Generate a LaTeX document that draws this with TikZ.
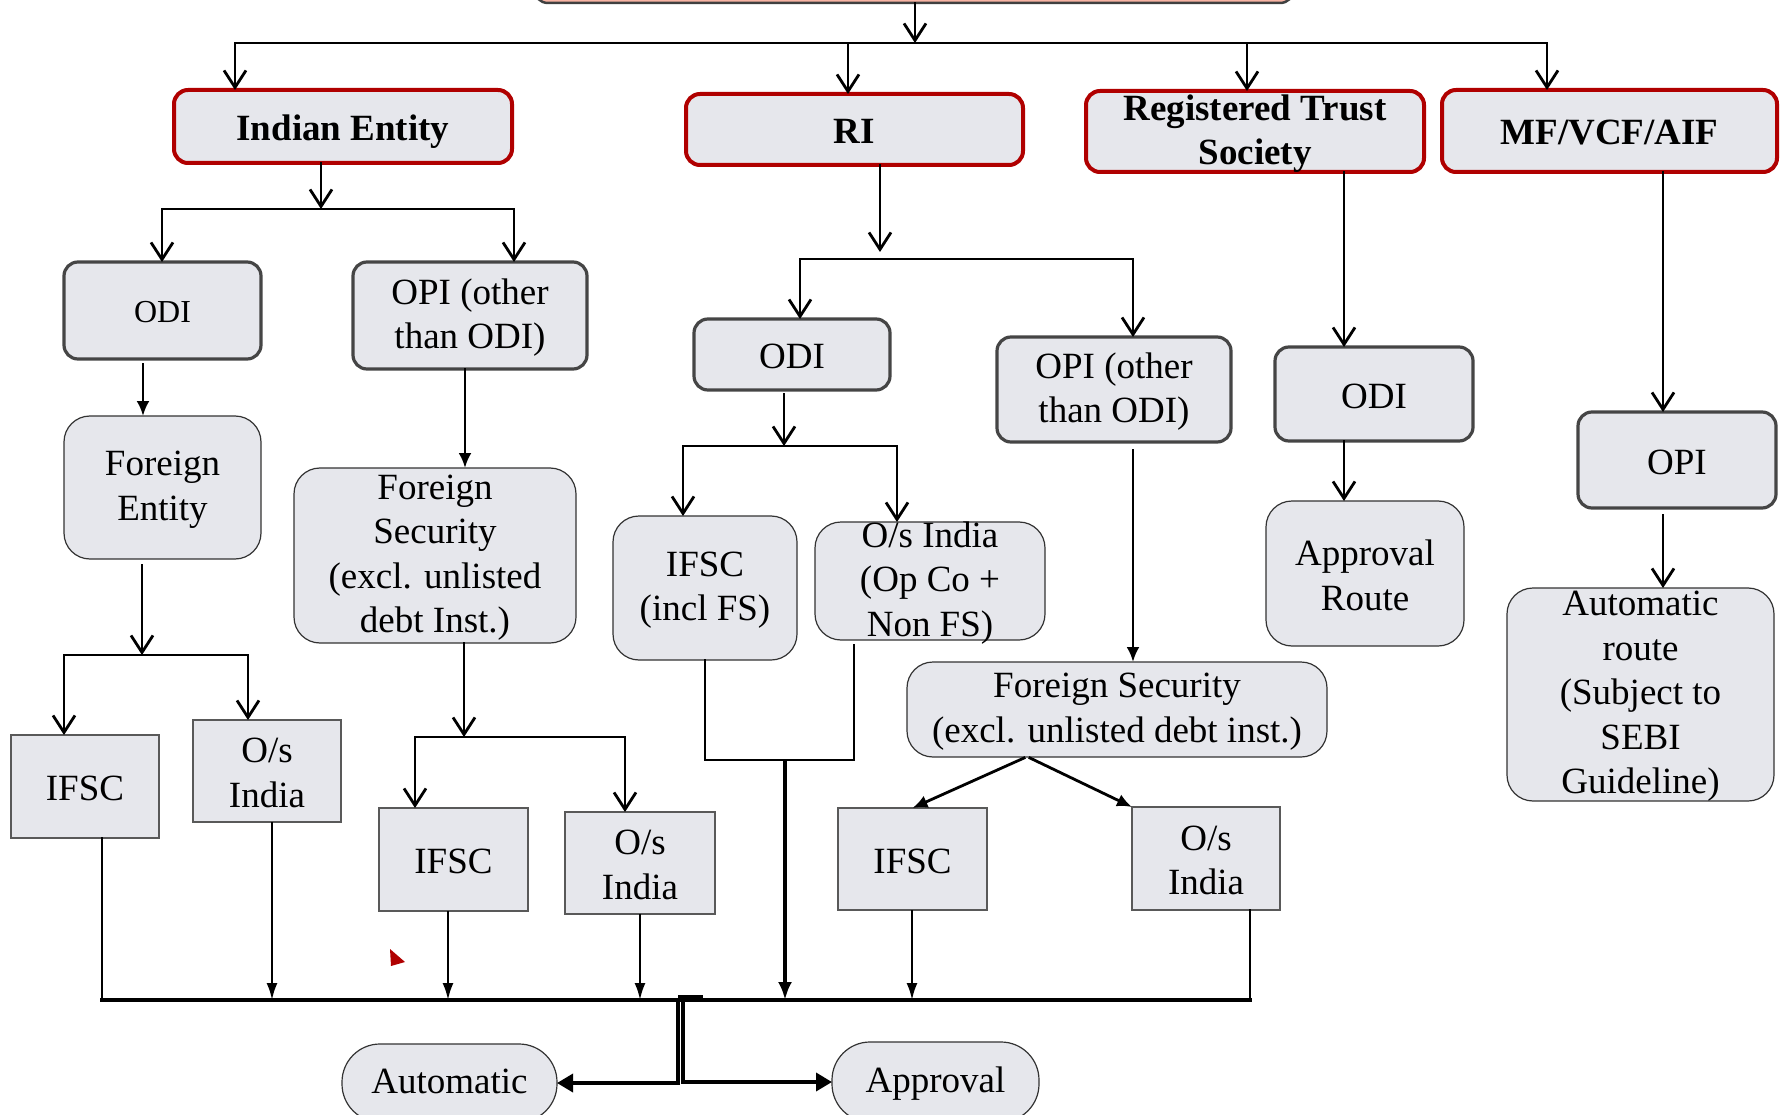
\documentclass[tikz,border=0pt]{standalone}
\usepackage{fontspec}
\setmainfont{Liberation Serif}
\usetikzlibrary{arrows.meta,calc}
\definecolor{boxfill}{HTML}{E6E7EC}
\definecolor{redb}{HTML}{B00000}
\definecolor{pinkf}{HTML}{F8B4A4}
\definecolor{grayb}{HTML}{454545}
\newcommand\mybox[8]{%
  \node[#1, anchor=north west, minimum width={(#5)-(#3)}, minimum height={(#6)-(#4)}] (#2) at (#3,#4) {};
  \node[txt,#7] (#2t) at ([yshift=-2pt]#2.center) {#8};}
\tikzset{
  base/.style={inner sep=0pt, outer sep=0pt, fill=boxfill},
  topbox/.style={inner sep=0pt, outer sep=0pt, fill=pinkf, draw=black!75, line width=2.5pt, rounded corners=14pt},
  lvlone/.style={base, draw=redb, line width=4pt, rounded corners=14pt},
  lvltwo/.style={base, draw=grayb, line width=3.2pt, rounded corners=14pt},
  soft/.style={base, draw=black!80, line width=1.2pt, rounded corners=26pt},
  sq/.style={base, draw=black!65, line width=1.5pt},
  pill/.style={base, draw=black!80, line width=1.2pt, rounded corners=38pt},
  txt/.style={inner sep=0pt, align=center, font=\fontsize{37}{44.5}\selectfont},
  bold/.style={font=\fontsize{37}{44.5}\selectfont\bfseries},
  smalltxt/.style={font=\fontsize{32}{38}\selectfont},
  conn/.style={line width=2.8pt, line cap=rect},
  oarr/.style={conn, -{Straight Barb[length=17pt,width=22pt]}},
  farr/.style={conn, -{Latex[length=15pt,width=13pt]}},
  narr/.style={line width=2.3pt, -{Latex[length=17pt,width=11pt]}},
  thickarr/.style={line width=4.5pt, -{Latex[length=18pt,width=14pt]}},
  aarr/.style={line width=3.5pt, -{Triangle[length=16pt,width=18pt]}},
  busline/.style={line width=4pt, line cap=rect}
}
\begin{document}
\begin{tikzpicture}[x=1pt,y=-1pt]
\useasboundingbox (0,0) rectangle (1783,1115);
\clip (0,0) rectangle (1783,1115);
% ---------------- boxes ----------------
\mybox{topbox}{top}{534}{-40}{1294}{3}{}{}
\mybox{lvlone}{ie}{174}{90}{512}{163}{bold,yshift=-3pt}{Indian Entity}
\mybox{lvlone}{ri}{686}{94}{1023}{165}{bold}{RI}
\mybox{lvlone}{rt}{1086}{91}{1424}{172}{bold}{Registered Trust\\Society}
\mybox{lvlone}{mf}{1442}{90}{1777}{172}{bold}{MF/VCF/AIF}
\mybox{lvltwo}{iodi}{64}{262}{261}{359}{smalltxt}{ODI}
\mybox{lvltwo}{iopi}{353}{262}{587}{369}{}{OPI (other\\than ODI)}
\mybox{soft}{fe}{64}{416}{261}{559}{}{Foreign\\Entity}
\mybox{soft}{fsa}{294}{468}{576}{643}{}{Foreign\\Security\\(excl. unlisted\\debt Inst.)}
\mybox{sq}{ifsca}{11}{735}{159}{838}{}{IFSC}
\mybox{sq}{osia}{193}{720}{341}{822}{}{O/s\\India}
\mybox{sq}{ifscb}{379}{808}{528}{911}{}{IFSC}
\mybox{sq}{osib}{565}{812}{715}{914}{}{O/s\\India}
\mybox{lvltwo}{riodi}{694}{319}{890}{390}{}{ODI}
\mybox{lvltwo}{riopi}{997}{337}{1231}{442}{}{OPI (other\\than ODI)}
\mybox{soft}{ifscc}{613}{516}{797}{660}{}{IFSC\\(incl FS)}
\mybox{soft}{osic}{815}{522}{1045}{640}{}{O/s India\\(Op Co +\\Non FS)}
\mybox{soft}{fsb}{907}{662}{1327}{757}{}{Foreign Security\\(excl. unlisted debt inst.)}
\mybox{sq}{ifscd}{838}{808}{987}{910}{}{IFSC}
\mybox{sq}{osid}{1132}{807}{1280}{910}{}{O/s\\India}
\mybox{lvltwo}{rtodi}{1275}{347}{1473}{441}{}{ODI}
\mybox{soft}{apr}{1266}{501}{1464}{646}{}{Approval\\Route}
\mybox{lvltwo}{mfopi}{1578}{412}{1776}{508}{}{OPI}
\mybox{soft}{aut}{1507}{588}{1774}{801}{}{Automatic\\route\\(Subject to\\SEBI\\Guideline)}
\mybox{pill}{autom}{342}{1044}{557}{1122}{yshift=4pt}{Automatic}
\mybox{pill}{appr}{832}{1042}{1039}{1122}{}{Approval}
% ---------------- top level ----------------
\coordinate (t0) at (915,43);
\draw[oarr] (top.south -| t0) -- (t0);
\coordinate (b1) at (235,43);
\coordinate (b2) at (848,43);
\coordinate (b3) at (1247,43);
\coordinate (b4) at (1547,43);
\draw[oarr] (b2) -- (b1) -- (b1 |- ie.north);
\draw[oarr] (b2) -- (b4) -- (b4 |- mf.north);
\draw[oarr] (b2) -- (b2 |- ri.north);
\draw[oarr] (b3) -- (b3 |- rt.north);
% ---------------- Indian entity ----------------
\coordinate (ie0) at (321,209);
\draw[oarr] (ie.south -| ie0) -- (ie0);
\coordinate (ieL) at (162,209);
\coordinate (ieR) at (514,209);
\draw[oarr] (ieR) -- (ieL) -- (ieL |- iodi.north);
\draw[oarr] (ieR) -- (ieR |- iopi.north);
\coordinate (gA) at (143,364);
\draw[farr] (gA) -- (fe.north -| gA);
\coordinate (gB) at (465,369);
\draw[farr] (iopi.south -| gB) -- (fsa.north -| gB);
\coordinate (fe0) at (142,655);
\coordinate (fe1) at (142,565);
\draw[oarr] (fe1) -- (fe0);
\coordinate (feL) at (64,655);
\coordinate (feR) at (248,655);
\draw[oarr] (feR) -- (feL) -- (feL |- ifsca.north);
\draw[oarr] (feR) -- (feR |- osia.north);
\coordinate (fs0) at (464,737);
\draw[oarr] (fsa.south -| fs0) -- (fs0);
\coordinate (fsL) at (415,737);
\coordinate (fsR) at (625,737);
\draw[oarr] (fsR) -- (fsL) -- (fsL |- ifscb.north);
\draw[oarr] (fsR) -- (fsR |- osib.north);
% ---------------- RI ----------------
\coordinate (ri0) at (880,252);
\draw[oarr] (ri.south -| ri0) -- (ri0);
\coordinate (riL) at (800,259);
\coordinate (riR) at (1133,259);
\draw[oarr] (riR) -- (riL) -- (riL |- riodi.north);
\draw[oarr] (riR) -- (riR |- riopi.north);
\coordinate (rb0) at (784,446);
\coordinate (rb1) at (784,394);
\draw[oarr] (rb1) -- (rb0);
\coordinate (rbL) at (683,446);
\coordinate (rbR) at (897,446);
\draw[oarr] (rbR) -- (rbL) -- (rbL |- ifscc.north);
\draw[oarr] (rbR) -- (rbR |- osic.north);
\coordinate (mL) at (705,760);
\coordinate (mR) at (854,760);
\coordinate (mR1) at (854,645);
\coordinate (m0) at (785,760);
\draw[conn] (ifscc.south -| mL) -- (mL) -- (mR) -- (mR1);
\coordinate (gC) at (1133,450);
\draw[farr] (gC) -- (fsb.north -| gC);
\coordinate (dL) at (1024,758);
\coordinate (dR) at (1030,758);
\draw[farr] (dL) -- (ifscd.north);
\draw[farr] (dR) -- (osid.north west);
% ---------------- Trust and MF ----------------
\coordinate (gD) at (1344,0);
\draw[oarr] (rt.south -| gD) -- (rtodi.north -| gD);
\draw[oarr] (rtodi.south -| gD) -- (apr.north -| gD);
\coordinate (gE) at (1663,0);
\coordinate (gE1) at (1663,515);
\draw[oarr] (mf.south -| gE) -- (mfopi.north -| gE);
\draw[oarr] (gE1) -- (aut.north -| gE);
% ---------------- bottom bus ----------------
\coordinate (bL) at (102,1000);
\coordinate (bR) at (1250,1000);
\draw[busline] (bL) -- (bR);
\draw[conn] (ifsca.south -| bL) -- (bL);
\draw[conn] (osid.south -| bR) -- (bR);
\coordinate (p1) at (272,1000);
\coordinate (p2) at (448,1000);
\coordinate (p3) at (640,1000);
\coordinate (p5) at (912,1000);
\draw[narr] (osia.south -| p1) -- (p1);
\draw[narr] (ifscb.south -| p2) -- (p2);
\draw[narr] (osib.south -| p3) -- (p3);
\draw[narr] (ifscd.south -| p5) -- (p5);
\draw[thickarr] (m0) -- (m0 |- bL);
\coordinate (jt1) at (678,997);
\coordinate (jt2) at (703,997);
\draw[line width=4pt] (jt1) -- (jt2);
\coordinate (jA) at (678,1000);
\coordinate (jB) at (683,1000);
\draw[aarr] (jA) -- (jA |- autom.east) -- (autom.east);
\draw[aarr] (jB) -- (jB |- appr.west) -- (appr.west);
% small red mark
\fill[redb] (390,949) -- (405,962) -- (391,966) -- cycle;
\end{tikzpicture}
\end{document}
